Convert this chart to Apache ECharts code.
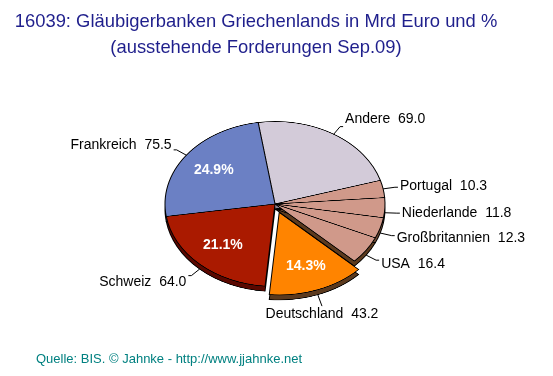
<!DOCTYPE html>
<html lang="de">
<head>
<meta charset="utf-8">
<title>Gläubigerbanken Griechenlands</title>
<script src="https://cdn.jsdelivr.net/npm/echarts@6/dist/echarts.min.js"></script>
<style>
  body { margin: 0; background: #fff; }
  #wrap { position: relative; width: 553px; height: 376px; }
  #pie, #main { position: absolute; left: 0; top: 0; width: 553px; height: 376px; }
  /* the pie is drawn round and squashed to look tilted */
  #pie { transform: scaleY(0.75); transform-origin: 0 204px; }
</style>
</head>
<body>
<div id="wrap">
  <div id="pie"></div>
  <div id="main"></div>
</div>
<script>
  var names = ['Andere', 'Portugal', 'Niederlande', 'Großbritannien', 'USA', 'Deutschland', 'Schweiz', 'Frankreich'];
  var values = [69.0, 10.3, 11.8, 12.3, 16.4, 43.2, 64.0, 75.5];
  var pctLabels = ['', '', '', '', '', '14.3%', '21.1%', '24.9%'];
  var topColors = ['#d3cbd9', '#d0998a', '#d0998a', '#d0998a', '#d0998a', '#ff8400', '#aa1a00', '#6b80c4'];
  var sideColors = ['#8c8494', '#6e4a34', '#6e4a34', '#6e4a34', '#5c3a1e', '#5c3a1e', '#5a0800', '#3c4a80'];
  var exploded = 'Deutschland';

  var CX = 275, CY = 204, R = 110, TILT = 0.75, DEPTH = 5, START = 98.8, OFFSET = 12;
  var font = "'Liberation Sans', Arial, sans-serif";

  function items(colors, sel) {
    return names.map(function (n, i) {
      var d = { name: n, value: values[i], selected: sel && n === exploded };
      if (colors) d.itemStyle = { color: colors[i] };
      return d;
    });
  }

  // slices + side face
  var pie = echarts.init(document.getElementById('pie'), null, { devicePixelRatio: 2 });

  function disk(cy, colors, z) {
    return {
      type: 'pie',
      center: [CX, cy],
      radius: R,
      startAngle: START,
      clockwise: true,
      selectedMode: 'single',
      selectedOffset: OFFSET,
      silent: true,
      z: z,
      label: { show: false },
      labelLine: { show: false },
      itemStyle: { borderColor: '#000', borderWidth: 1 },
      emphasis: { disabled: true },
      data: items(colors, true)
    };
  }

  pie.setOption({
    animation: false,
    series: [disk(CY + DEPTH / TILT, sideColors, 1), disk(CY, topColors, 2)]
  });

  // labels and texts, not squashed
  var main = echarts.init(document.getElementById('main'));

  function squash(y, side) {
    var s = CY + (y - CY) * TILT;
    return (side && y > CY) ? s + DEPTH : s;
  }

  // push the exploded slice's labels out along the slice direction
  function explodeShift(i, px, py) {
    if (names[i] !== exploded) return [0, 0];
    var dx = px - CX, dy = py - CY, len = Math.sqrt(dx * dx + dy * dy) || 1;
    return [dx / len * OFFSET, dy / len * OFFSET];
  }

  function outsideLayout(p) {
    var pts = p.labelLinePoints;
    if (!pts) return {};
    var off = explodeShift(p.dataIndex, pts[0][0], pts[0][1]);
    var q = pts.map(function (pt) { return [pt[0] + off[0], squash(pt[1] + off[1], true)]; });
    var h = p.labelRect.height;
    var dx = q[1][0] - q[0][0], dy = q[1][1] - q[0][1];
    var len = Math.sqrt(dx * dx + dy * dy) || 1;
    if (Math.abs(dy) > 1.5 * Math.abs(dx)) {
      q[1][1] += dy > 0 ? 3 : -3;
      return {
        x: q[1][0],
        y: q[1][1] + (dy > 0 ? 1 : -1),
        align: 'center',
        verticalAlign: dy > 0 ? 'top' : 'bottom',
        labelLinePoints: [q[0], q[1]]
      };
    }
    return {
      x: q[2][0] + (dx > 0 ? 2 : -2) + off[0],
      y: q[2][1] + dy / len * h * 0.7,
      labelLinePoints: q
    };
  }

  function insideLayout(p) {
    var r = p.labelRect;
    var cx = r.x + r.width / 2, cy = r.y + r.height / 2;
    var off = explodeShift(p.dataIndex, cx, cy);
    return { x: cx + off[0], y: squash(cy + off[1], false) };
  }

  var clear = 'rgba(0,0,0,0)';

  main.setOption({
    animation: false,
    title: [{
      text: '16039: Gläubigerbanken Griechenlands in Mrd Euro und %\n(ausstehende Forderungen Sep.09)',
      left: 256,
      top: 9,
      padding: 0,
      textAlign: 'center',
      textStyle: { fontFamily: font, fontSize: 18.4, fontWeight: 'normal', color: '#1f1f8c', lineHeight: 26 }
    }, {
      text: 'Quelle: BIS. © Jahnke - http://www.jjahnke.net',
      left: 36,
      top: 353,
      padding: 0,
      textStyle: { fontFamily: font, fontSize: 13, fontWeight: 'normal', color: '#008080' }
    }],
    series: [{
      type: 'pie',
      center: [CX, CY],
      radius: R,
      startAngle: START,
      silent: true,
      avoidLabelOverlap: false,
      itemStyle: { color: clear },
      emphasis: { disabled: true },
      label: {
        show: true,
        position: 'outside',
        formatter: function (p) { return p.name + '  ' + p.value.toFixed(1); },
        color: '#000',
        fontFamily: font,
        fontSize: 14,
        distanceToLabelLine: 2
      },
      labelLine: { show: true, length: 12, length2: 3, lineStyle: { color: '#000', width: 1 } },
      labelLayout: outsideLayout,
      data: items(null, false)
    }, {
      type: 'pie',
      center: [CX, CY],
      radius: [36, R],
      startAngle: START,
      silent: true,
      itemStyle: { color: clear },
      emphasis: { disabled: true },
      label: {
        show: true,
        position: 'inside',
        formatter: function (p) { return pctLabels[p.dataIndex]; },
        color: '#fff',
        fontFamily: font,
        fontSize: 14,
        fontWeight: 'bold'
      },
      labelLine: { show: false },
      labelLayout: insideLayout,
      data: items(null, false)
    }]
  });
</script>
</body>
</html>
